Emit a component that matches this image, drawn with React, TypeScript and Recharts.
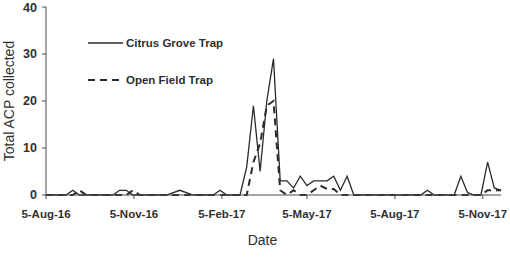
import { LineChart, Line, XAxis, YAxis, Legend } from "recharts";

// sampling dates (weekly/biweekly trap checks)
const sampleDates = [
  "2016-08-05", "2016-08-26", "2016-09-02", "2016-09-09", "2016-09-16",
  "2016-10-14", "2016-10-21", "2016-10-28", "2016-11-04", "2016-11-11",
  "2016-12-09", "2016-12-23", "2017-01-06", "2017-01-27", "2017-02-03",
  "2017-02-10", "2017-02-24", "2017-03-03", "2017-03-10", "2017-03-17",
  "2017-03-24", "2017-03-31", "2017-04-07", "2017-04-14", "2017-04-21",
  "2017-04-28", "2017-05-05", "2017-05-12", "2017-05-19", "2017-05-26",
  "2017-06-02", "2017-06-09", "2017-06-16", "2017-06-23", "2017-09-01",
  "2017-09-08", "2017-09-15", "2017-10-06", "2017-10-13", "2017-10-20",
  "2017-10-27", "2017-11-03", "2017-11-10", "2017-11-17", "2017-11-24",
];

const citrusGrove = [
  0, 0, 1, 0, 0,
  0, 1, 1, 0, 0,
  0, 1, 0, 0, 1,
  0, 0, 6, 19, 5,
  20, 29, 3, 3, 1.5,
  4, 2, 3, 3, 3,
  4, 1, 4, 0, 0,
  1, 0, 0, 4, 0.5,
  0, 0, 7, 1.5, 1,
];

const openField = [
  0, 0, 0, 1, 0,
  0, 0, 0, 1, 0,
  0, 0, 0, 0, 0,
  0, 0, 0, 7, 11,
  19, 20, 1, 0, 1,
  0, 0, 1, 2, 1.3,
  1.3, 0, 0, 0, 0,
  0, 0, 0, 0, 0,
  0, 0, 1, 1, 1,
];

const startDate = "2016-08-05";
const endDate = "2017-11-24";
const tickDates = ["2016-08-05", "2016-11-05", "2017-02-05", "2017-05-05", "2017-08-05", "2017-11-05"];
const tickLabels = ["5-Aug-16", "5-Nov-16", "5-Feb-17", "5-May-17", "5-Aug-17", "5-Nov-17"];
const yTicks = [0, 10, 20, 30, 40];

const toDay = (d: string) => Math.round((Date.parse(d) - Date.parse(startDate)) / 86400000);

const data = sampleDates.map((d, i) => ({
  day: toDay(d),
  citrus: citrusGrove[i],
  open: openField[i],
}));

const xTicks = tickDates.map(toDay);

const INK = "#2a2a2a";
const AXIS = "#4a4a4a";
const TEXT = "#2f2f2f";
const FONT = "'Liberation Sans', Arial, sans-serif";

const renderLegend = () => (
  <svg width={240} height={100} style={{ display: "block" }}>
    <line x1={88} y1={43} x2={123} y2={43} stroke={INK} strokeWidth={1.3} />
    <text x={126} y={47} fontFamily={FONT} fontSize={11.5} fontWeight="bold" fill={TEXT}>
      Citrus Grove Trap
    </text>
    <line x1={88} y1={80} x2={123} y2={80} stroke={INK} strokeWidth={2} strokeDasharray="7 5" />
    <text x={126} y={84} fontFamily={FONT} fontSize={11.5} fontWeight="bold" fill={TEXT}>
      Open Field Trap
    </text>
  </svg>
);

export default function App() {
  return (
    <div style={{ position: "absolute", left: 0, top: 0, background: "#fff" }}>
      <LineChart
        width={510}
        height={271}
        data={data}
        margin={{ top: 7, right: 9, bottom: 46, left: 0 }}
      >
        <XAxis
          dataKey="day"
          type="number"
          domain={[0, toDay(endDate)]}
          ticks={xTicks}
          tickFormatter={(v) => tickLabels[xTicks.indexOf(v)] ?? ""}
          interval={0}
          height={30}
          tickSize={4}
          tickMargin={11}
          stroke={AXIS}
          tick={{ fontFamily: FONT, fontSize: 11.5, fontWeight: "bold", fill: TEXT }}
          label={{
            value: "Date",
            position: "bottom",
            offset: 10,
            dx: -11,
            style: { fontFamily: FONT, fontSize: 14, fill: TEXT },
          }}
        />
        <YAxis
          domain={[0, 40]}
          ticks={yTicks}
          width={46}
          tickSize={4}
          tickMargin={5}
          stroke={AXIS}
          tick={{ fontFamily: FONT, fontSize: 12.5, fontWeight: "bold", fill: TEXT }}
          label={{
            value: "Total ACP collected",
            angle: -90,
            position: "insideLeft",
            offset: 9,
            style: { fontFamily: FONT, fontSize: 14, fill: TEXT, textAnchor: "middle" },
          }}
        />
        <Legend
          layout="vertical"
          align="center"
          verticalAlign="middle"
          content={renderLegend}
          wrapperStyle={{ left: 0, top: 0, width: 240 }}
        />
        <Line
          type="linear"
          dataKey="open"
          name="Open Field Trap"
          stroke={INK}
          strokeWidth={2}
          strokeDasharray="7 5"
          dot={false}
          isAnimationActive={false}
        />
        <Line
          type="linear"
          dataKey="citrus"
          name="Citrus Grove Trap"
          stroke={INK}
          strokeWidth={1.3}
          dot={false}
          isAnimationActive={false}
        />
      </LineChart>
    </div>
  );
}
